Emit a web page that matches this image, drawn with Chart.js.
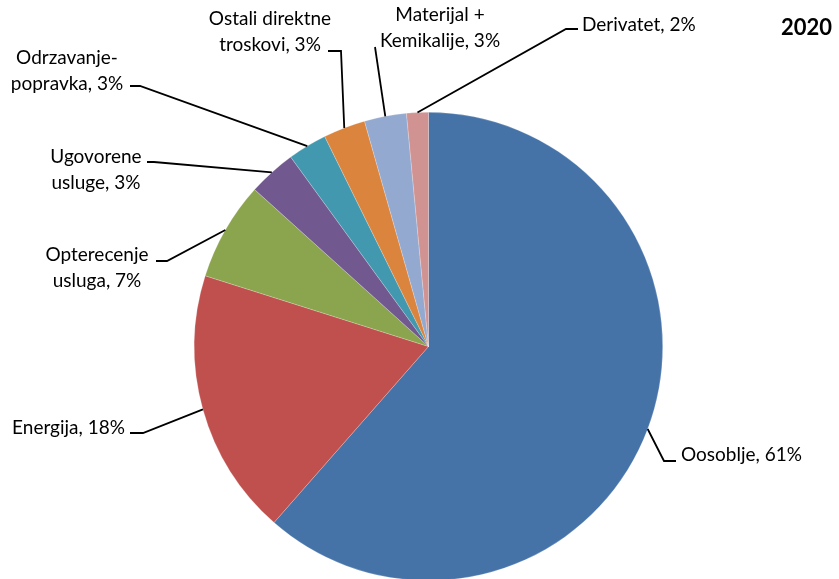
<!DOCTYPE html>
<html>
<head>
<meta charset="utf-8">
<script src="https://cdn.jsdelivr.net/npm/chart.js@4.4.0/dist/chart.umd.min.js"></script>
<style>
html, body { margin:0; padding:0; background:#fff; overflow:hidden; }
#wrap { width:839px; height:600px; }
</style>
</head>
<body>
<div id="wrap"><canvas id="pie_2020" width="839" height="600"></canvas></div>
<script>
// podaci
const categories = ['Oosoblje', 'Energija', 'Opterecenje usluga', 'Ugovorene usluge',
	'Odrzavanje-popravka', 'Ostali direktne troskovi', 'Materijal + Kemikalije', 'Derivatet'];
const shares = [61.4, 18.4, 6.8, 3.3, 2.7, 2.9, 2.9, 1.5]; // %
const colors = ['#4572A7', '#C0504D', '#8BA54E', '#71588F', '#4298AF', '#DB843D', '#93A9CF', '#D19392'];

// raspored natpisa (linije + tekst)
const labelLines = [
	['Oosoblje, 61%'],
	['Energija, 18%'],
	['Opterecenje', 'usluga, 7%'],
	['Ugovorene', 'usluge, 3%'],
	['Odrzavanje-', 'popravka, 3%'],
	['Ostali direktne', 'troskovi, 3%'],
	['Materijal +', 'Kemikalije, 3%'],
	['Derivatet, 2%']
];
const labelLayout = [
	{elbow:[664,461], end:[676,461], tx:681, ty:455, align:'left'},
	{elbow:[143,433], end:[130,433], tx:125, ty:428, align:'right'},
	{elbow:[167,261], end:[156,261], tx:97,  ty:255, align:'center'},
	{elbow:[154,162], end:[147,162], tx:96,  ty:157, align:'center'},
	{elbow:[140,86],  end:[130,86],  tx:67,  ty:58,  align:'center'},
	{elbow:[341,51],  end:[328,51],  tx:270, ty:19,  align:'center'},
	{elbow:[375,47],  end:null,      tx:440, ty:15,  align:'center'},
	{elbow:[566,29],  end:[578,29],  tx:582, ty:25,  align:'left'}
];
const FONT = 'Lato, "Open Sans", sans-serif';

const leaderLabels = {
	id: 'leaderLabels',
	afterDraw(chart) {
		const ctx = chart.ctx;
		const arcs = chart.getDatasetMeta(0).data;
		ctx.save();
		ctx.strokeStyle = '#000';
		ctx.lineWidth = 1.8;
		ctx.fillStyle = '#000';
		ctx.font = '19px ' + FONT;
		ctx.textBaseline = 'middle';
		arcs.forEach(function(arc, i) {
			const p = arc.getProps(['x', 'y', 'startAngle', 'endAngle', 'outerRadius'], true);
			const mid = (p.startAngle + p.endAngle) / 2;
			const sx = p.x + Math.cos(mid) * p.outerRadius;
			const sy = p.y + Math.sin(mid) * p.outerRadius;
			const L = labelLayout[i];
			ctx.beginPath();
			ctx.moveTo(sx, sy);
			ctx.lineTo(L.elbow[0], L.elbow[1]);
			if (L.end) ctx.lineTo(L.end[0], L.end[1]);
			ctx.stroke();
			ctx.textAlign = L.align;
			labelLines[i].forEach(function(t, k) {
				ctx.fillText(t, L.tx, L.ty + k * 26);
			});
		});
		// naslov
		ctx.font = 'bold 22px ' + FONT;
		ctx.textAlign = 'right';
		ctx.fillText('2020', 832, 28);
		ctx.restore();
	}
};

const pieCtx = document.getElementById('pie_2020').getContext('2d');
const pie_2020 = new Chart(pieCtx, {
	type: 'pie',
	plugins: [leaderLabels],
	data: {
		labels: categories,
		datasets: [{
			data: shares,
			backgroundColor: colors,
			borderColor: 'rgba(255,255,255,0.35)',
			borderWidth: 0.6
		}]
	},
	options: {
		responsive: false,
		animation: false,
		layout: {
			padding: {top: 112, bottom: 19, left: 194, right: 176}
		},
		plugins: {
			legend: {display: false},
			tooltip: {enabled: false},
			title: {display: false}
		}
	}
});
</script>
</body>
</html>
